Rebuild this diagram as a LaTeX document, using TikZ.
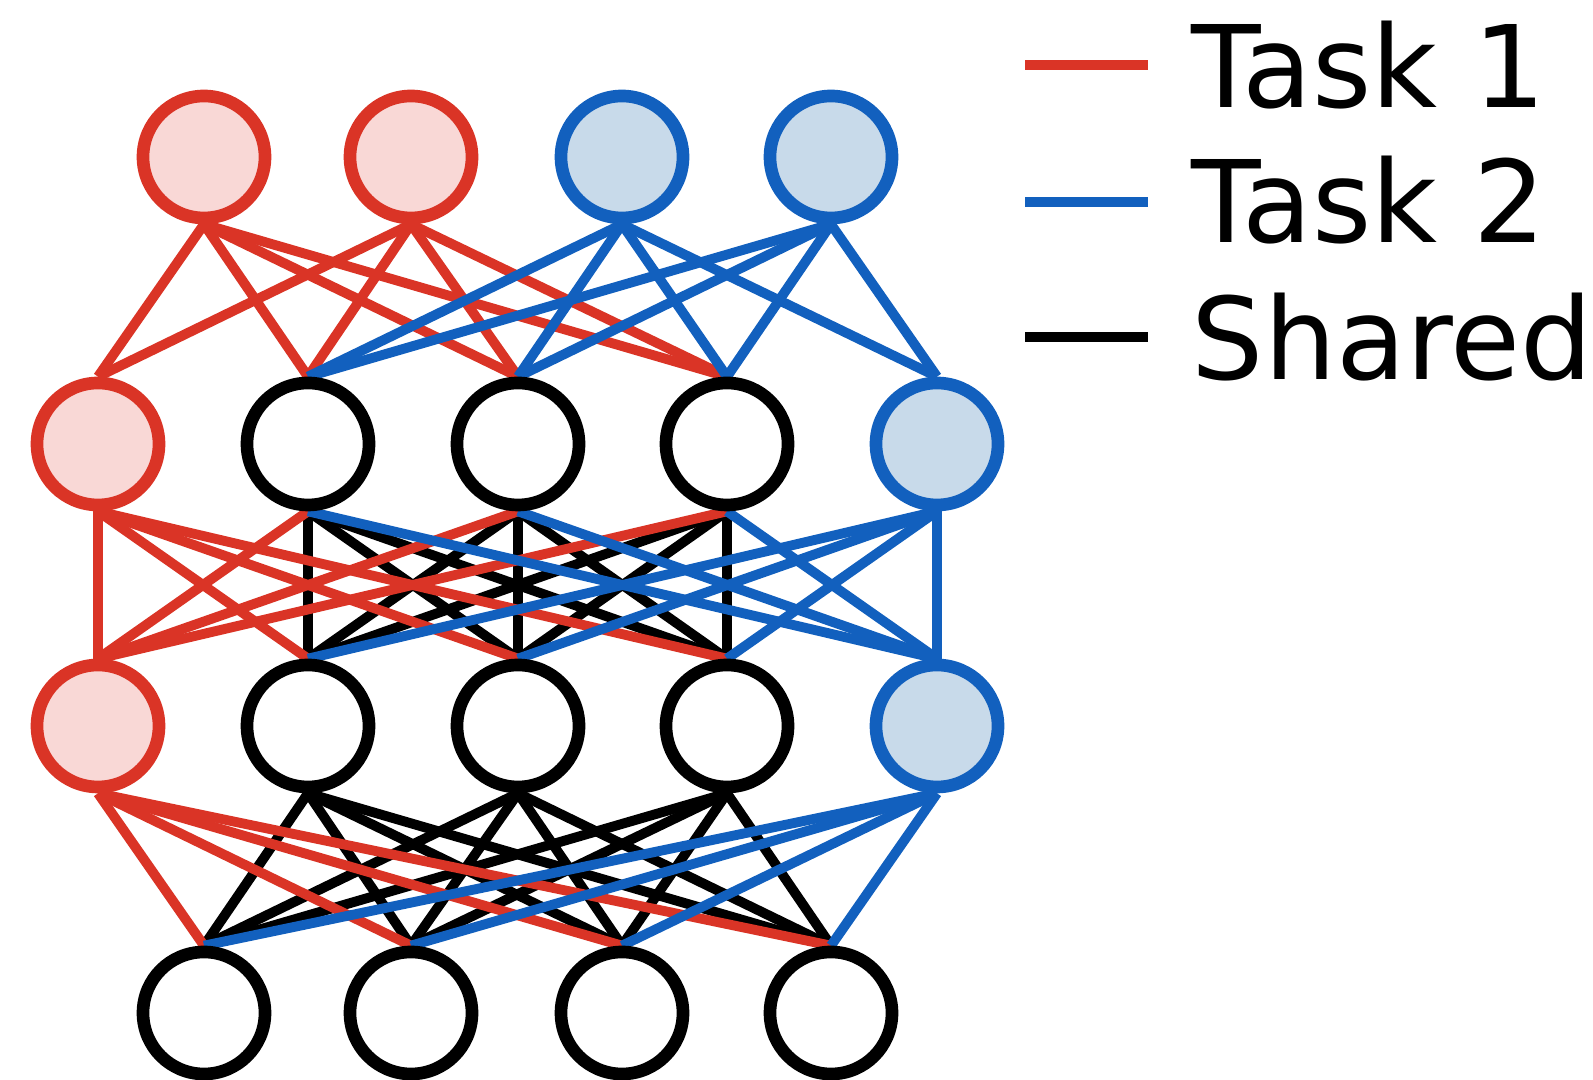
\documentclass[tikz,border=0pt]{standalone}
\usepackage{fontspec}
\setmainfont{DejaVu Sans}
\usetikzlibrary{backgrounds}

\definecolor{taskred}{RGB}{218,52,38}
\definecolor{taskblue}{RGB}{18,96,190}
\definecolor{redfill}{RGB}{249,216,214}
\definecolor{bluefill}{RGB}{200,218,234}

\begin{document}
\begin{tikzpicture}[
    unit/.style={circle,draw,line width=3.6pt,minimum size=1.22cm,inner sep=0pt},
    shared unit/.style={unit,draw=black,fill=white},
    red unit/.style={unit,draw=taskred,fill=redfill},
    blue unit/.style={unit,draw=taskblue,fill=bluefill},
    link/.style={line width=2.8pt},
    key/.style={line width=2.8pt},
    label/.style={anchor=base west,inner sep=0pt,font=\fontsize{32.4}{38}\selectfont}]
    \useasboundingbox (0,0) rectangle (15.93,10.80);

    % output units
    \node[red unit]  (o1) at (2.04,9.23) {};
    \node[red unit]  (o2) at (4.11,9.23) {};
    \node[blue unit] (o3) at (6.22,9.23) {};
    \node[blue unit] (o4) at (8.31,9.23) {};

    % upper (u) and lower (l) hidden layers
    \foreach \n/\y in {u/6.36,l/3.54} {
        \node[red unit]    (\n r) at (0.98,\y) {};
        \node[shared unit] (\n 1) at (3.08,\y) {};
        \node[shared unit] (\n 2) at (5.18,\y) {};
        \node[shared unit] (\n 3) at (7.27,\y) {};
        \node[blue unit]   (\n b) at (9.37,\y) {};
    }

    % input units
    \foreach \i/\x in {1/2.04,2/4.11,3/6.22,4/8.31}
        \node[shared unit] (i\i) at (\x,0.67) {};

    \begin{scope}[on background layer]
        % shared weights
        \foreach \a in {1,2,3} {
            \foreach \b in {1,2,3}
                \draw[link,black] (u\a.south) -- (l\b.north);
            \foreach \b in {1,2,3,4}
                \draw[link,black] (l\a.south) -- (i\b.north);
        }
        % task 1
        \foreach \a in {1,2}
            \foreach \b in {r,1,2,3}
                \draw[link,taskred] (o\a.south) -- (u\b.north);
        \foreach \b in {r,1,2,3}
            \draw[link,taskred] (ur.south) -- (l\b.north);
        \foreach \a in {1,2,3}
            \draw[link,taskred] (u\a.south) -- (lr.north);
        \foreach \b in {1,2,3,4}
            \draw[link,taskred] (lr.south) -- (i\b.north);
        % task 2
        \foreach \a in {3,4}
            \foreach \b in {1,2,3,b}
                \draw[link,taskblue] (o\a.south) -- (u\b.north);
        \foreach \b in {1,2,3,b}
            \draw[link,taskblue] (ub.south) -- (l\b.north);
        \foreach \a in {1,2,3}
            \draw[link,taskblue] (u\a.south) -- (lb.north);
        \foreach \b in {1,2,3,4}
            \draw[link,taskblue] (lb.south) -- (i\b.north);
    \end{scope}

    % legend
    \coordinate (k1a) at (10.25,10.15); \coordinate (k1b) at (11.48,10.15);
    \coordinate (k2a) at (10.25,8.78);  \coordinate (k2b) at (11.48,8.78);
    \coordinate (k3a) at (10.25,7.43);  \coordinate (k3b) at (11.48,7.43);
    \draw[key,taskred]  (k1a) -- (k1b);
    \draw[key,taskblue] (k2a) -- (k2b);
    \draw[key,black]    (k3a) -- (k3b);
    \node[label] (t1) at (11.91,9.72) {Task 1};
    \node[label] (t2) at (11.91,8.37) {Task 2};
    \node[label] (t3) at (11.91,7.00) {Shared};
\end{tikzpicture}
\end{document}
